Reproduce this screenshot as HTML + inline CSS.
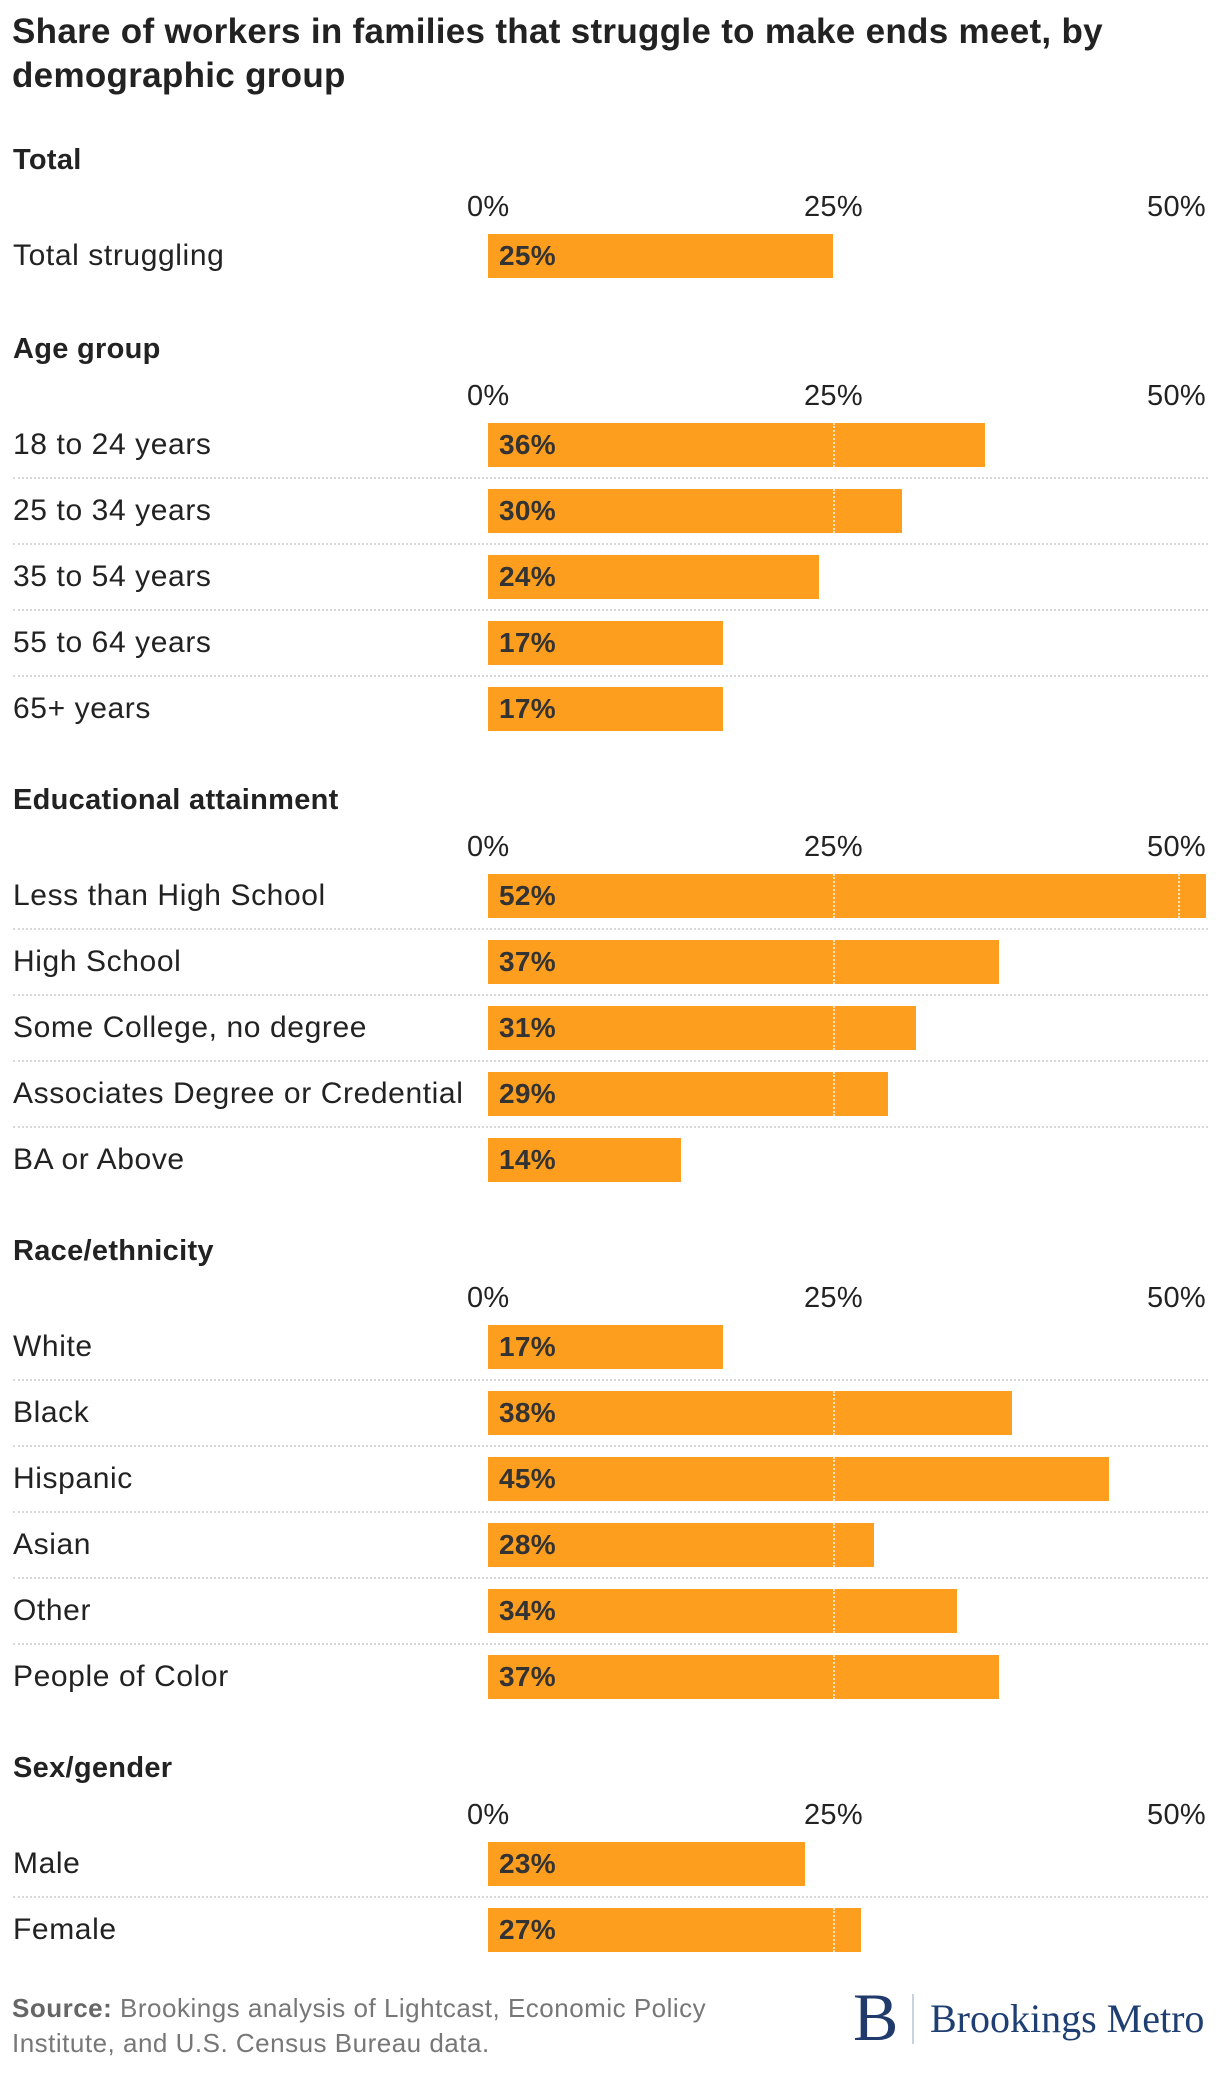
<!DOCTYPE html>
<html><head><meta charset="utf-8">
<style>
body{margin:0;background:#fff;width:1220px;height:2078px;overflow:hidden;font-family:"Liberation Sans",sans-serif;color:#222;position:relative}
.abs{position:absolute;white-space:nowrap}
.title{left:12px;top:10px;font-size:35px;font-weight:bold;line-height:44px;color:#222;letter-spacing:0.3px}
.head{left:13px;font-size:29px;font-weight:bold;color:#222;letter-spacing:0.3px}
.lab{left:13px;font-size:30px;color:#222;letter-spacing:0.6px}
.tick{font-size:29px;color:#222;letter-spacing:0.3px}
.bar{background:#FD9E1E;height:44px}
.val{font-size:28px;font-weight:bold;color:#333;letter-spacing:0.3px}
.sep{left:13px;width:1195px;height:0;border-top:2px dotted #d8d8d8}
.grid{width:0;height:44px;border-left:2px dotted rgba(255,255,255,0.7)}
</style></head><body>
<div class="abs title">Share of workers in families that struggle to make ends meet, by<br>demographic group</div>
<div id="chart"></div>
<div class="abs" style="left:12px;top:1991px;font-size:26px;line-height:35px;color:#777;letter-spacing:0.5px"><b style="color:#666">Source:</b> Brookings analysis of Lightcast, Economic Policy<br>Institute, and U.S. Census Bureau data.</div>
<div class="abs" style="left:853px;top:1983px;font-family:'Liberation Serif',serif;font-size:68px;line-height:68px;color:#1f3a6b">B</div>
<div class="abs" style="left:912px;top:1994px;width:2px;height:50px;background:#c9d3e0"></div>
<div class="abs" style="left:930px;top:1995px;font-family:'Liberation Serif',serif;font-size:40px;color:#1f3f73">Brookings Metro</div>
<script>
const sectionTitles=["Total","Age group","Educational attainment","Race/ethnicity","Sex/gender"];
const totalCats=["Total struggling"];
const totalVals=[25];
const ageCats=["18 to 24 years","25 to 34 years","35 to 54 years","55 to 64 years","65+ years"];
const ageVals=[36,30,24,17,17];
const eduCats=["Less than High School","High School","Some College, no degree","Associates Degree or Credential","BA or Above"];
const eduVals=[52,37,31,29,14];
const raceCats=["White","Black","Hispanic","Asian","Other","People of Color"];
const raceVals=[17,38,45,28,34,37];
const sexCats=["Male","Female"];
const sexVals=[23,27];
const tickVals=[0,25,50];
const tickLabels=["0%","25%","50%"];
const sections=[[totalCats,totalVals],[ageCats,ageVals],[eduCats,eduVals],[raceCats,raceVals],[sexCats,sexVals]];
const x0=488, pxPer=13.8;
function xs(v){return x0+v*pxPer;}
const chart=document.getElementById('chart');
function mk(cls,l,t,txt){const d=document.createElement('div');d.className='abs '+cls;d.style.left=l+'px';d.style.top=t+'px';if(txt!==undefined)d.textContent=txt;chart.appendChild(d);return d;}
let y=159;
sections.forEach((s,si)=>{
  const h=mk('head',13,y-15,sectionTitles[si]);
  
  
  const ay=y+49;
  tickVals.forEach((tv,ti)=>{
    const t=mk('tick',0,ay-17,tickLabels[ti]);
    
    
    if(ti===0){t.style.left=(xs(tv)-21)+'px';}
    else if(ti===tickVals.length-1){t.style.left='auto';t.style.right=(1220-1206)+'px';}
    else{t.style.left=(xs(tv)-29)+'px';}
  });
  const cats=s[0],vals=s[1];
  let ry=ay+48;
  cats.forEach((c,i)=>{
    const l=mk('lab',13,ry-17,c);
    
    
    const b=mk('bar',x0,ry-22);
    b.style.width=(xs(vals[i])-x0)+'px';
    
    
    tickVals.slice(1).forEach(tv=>{
      if(xs(tv)<xs(vals[i])){const g=mk('grid',xs(tv),ry-22);
        
        }
    });
    const v=mk('val',x0+11,ry-16,vals[i]+'%');
    
    
    if(i<cats.length-1){const sp=mk('sep',13,ry+32);
      
      }
    ry+=66;
  });
  y=ry-66+90;
  if(si===0)y=348;
});
</script>
</body></html>
